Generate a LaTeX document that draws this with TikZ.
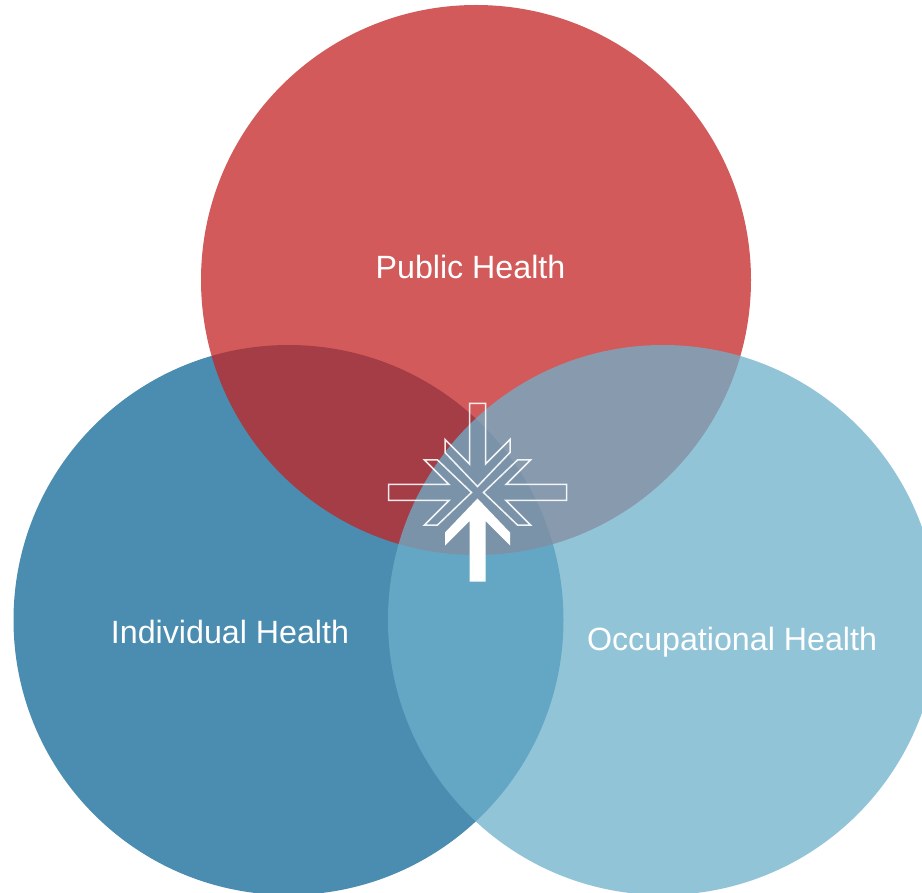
\documentclass[tikz,border=0pt]{standalone}
\usepackage{fontspec}
\setmainfont{Liberation Sans}
\definecolor{dblue}{RGB}{74,141,176}
\definecolor{pred}{RGB}{196,35,35}
\definecolor{lblue}{RGB}{110,176,203}
\tikzset{
  venn/.style={circle, minimum size=550pt, inner sep=0pt, outer sep=0pt},
  label/.style={text=white, anchor=base, inner sep=0pt, font=\fontsize{32.2}{37}\selectfont},
  inarrow/.pic={\path[pic actions] (0,6) -- (32.5,40) -- (32.5,53) -- (8,28.5) -- (8,\tikzarrowlen) -- (-8,\tikzarrowlen) -- (-8,28.5) -- (-32.5,53) -- (-32.5,40) -- cycle;},
  outlinearrow/.style={draw=white, draw opacity=0.9, line width=1.5pt, line join=miter},
  solidarrow/.style={fill=white}
}
\def\tikzarrowlen{89}
\begin{document}
\begin{tikzpicture}[x=1pt, y=-1pt]
\useasboundingbox (0,0) rectangle (922,893);
\clip (0,0) rectangle (922,893);
\node[venn, fill=dblue] (indiv) at (288.5,620) {};
\node[venn, fill=pred, fill opacity=0.75] (public) at (476,280) {};
\node[venn, fill=lblue, fill opacity=0.75] (occup) at (663,620) {};
\coordinate (sym) at (477.5,492.5);
\pic[outlinearrow, rotate=90] at (sym) {inarrow};
\pic[outlinearrow, rotate=180] at (sym) {inarrow};
\pic[outlinearrow, rotate=270] at (sym) {inarrow};
\pic[solidarrow] at (sym) {inarrow};
\node[label] (tpublic) at (470.5,279) {Public Health};
\node[label] (tindiv) at (230,643) {Individual Health};
\node[label] (toccup) at (732,650) {Occupational Health};
\end{tikzpicture}
\end{document}
